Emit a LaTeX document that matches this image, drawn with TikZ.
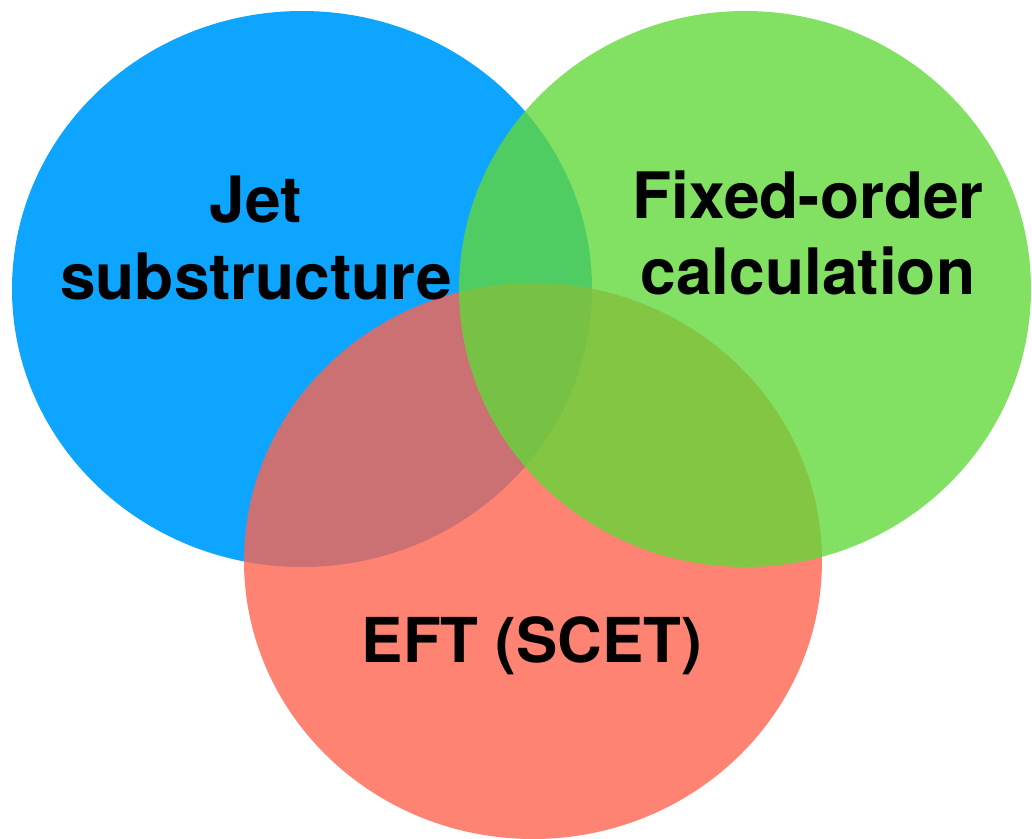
\documentclass[tikz,border=0pt]{standalone}
\usepackage{fontspec}
\setmainfont{TeX Gyre Heros}

\definecolor{jetblue}{RGB}{13,165,255}
\definecolor{fogreen}{RGB}{97,216,56}
\definecolor{eftred}{RGB}{255,98,78}

\begin{document}
\begin{tikzpicture}[x=0.01cm, y=-0.01cm,
  setlabel/.style={inner sep=0pt, align=center,
    font=\fontsize{18.2}{21.8}\selectfont\bfseries}]

\useasboundingbox (0,0) rectangle (1032,839);

% centres of the three sets
\coordinate (J) at (302,289);
\coordinate (F) at (745,289);
\coordinate (E) at (533,561);

\fill[jetblue] (J) ellipse (290 and 278);
\fill[eftred, fill opacity=0.79] (E) ellipse (289 and 278);
\fill[fogreen, fill opacity=0.79] (F) ellipse (286 and 278);

\node[setlabel] (jet) at (256,238) {Jet\\substructure};
\node[setlabel] (fixed) at (808,233) {Fixed-order\\calculation};
\node[setlabel, anchor=base, font=\fontsize{17.6}{21.8}\selectfont\bfseries]
  (eft) at (532,662) {EFT (SCET)};

\end{tikzpicture}
\end{document}
